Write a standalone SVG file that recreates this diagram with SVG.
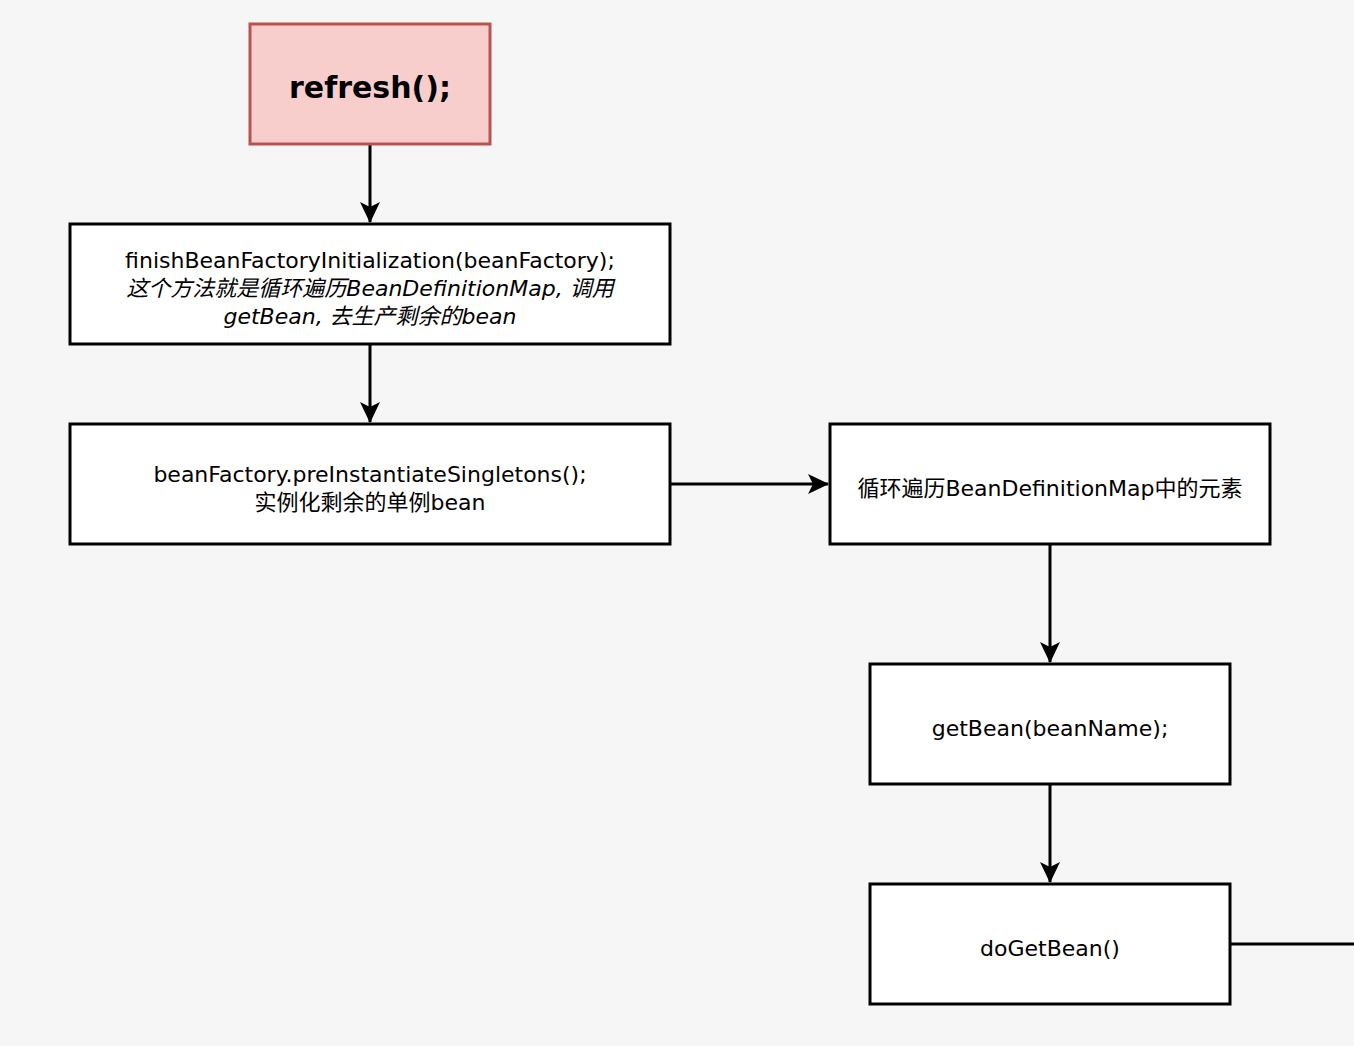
<svg xmlns="http://www.w3.org/2000/svg" width="1354" height="1046" viewBox="0 0 1354 1046">
<style>
.box{fill:#ffffff;stroke:#000000;stroke-width:3}
.red{fill:#f8cecc;stroke:#b85450;stroke-width:3}
.t{font-family:"DejaVu Sans","Noto Sans CJK SC",sans-serif;font-size:22px;fill:#000;text-anchor:middle}
.i{font-style:italic}
.b{font-weight:bold;font-size:30px}
.c{fill:none;stroke:#000;stroke-width:3}
</style>
<defs>
<marker id="arr" markerWidth="22" markerHeight="22" refX="20" refY="11" orient="auto" markerUnits="userSpaceOnUse" viewBox="0 0 22 22">
<path d="M0,1 L21,11 L0,21 L5,11 Z" fill="#000"/>
</marker>
</defs>
<rect width="1354" height="1046" fill="#f6f6f6"/>
<g id="connectors">
<path class="c" d="M370,145 L370,222" marker-end="url(#arr)"/>
<path class="c" d="M370,345 L370,422" marker-end="url(#arr)"/>
<path class="c" d="M671,484 L828,484" marker-end="url(#arr)"/>
<path class="c" d="M1050,545 L1050,662" marker-end="url(#arr)"/>
<path class="c" d="M1050,785 L1050,882" marker-end="url(#arr)"/>
<path class="c" d="M1231,944 L1354,944"/>
</g>
<g id="refresh">
<rect class="red" x="250" y="24" width="240" height="120"/>
<text class="t b" x="370" y="98">refresh();</text>
</g>
<g id="finish">
<rect class="box" x="70" y="224" width="600" height="120"/>
<text class="t" x="370" y="268">finishBeanFactoryInitialization(beanFactory);</text>
<text class="t i" x="370" y="296">这个方法就是循环遍历BeanDefinitionMap, 调用</text>
<text class="t i" x="370" y="324">getBean, 去生产剩余的bean</text>
</g>
<g id="preInstantiate">
<rect class="box" x="70" y="424" width="600" height="120"/>
<text class="t" x="370" y="482">beanFactory.preInstantiateSingletons();</text>
<text class="t" x="370" y="510">实例化剩余的单例bean</text>
</g>
<g id="loop">
<rect class="box" x="830" y="424" width="440" height="120"/>
<text class="t" x="1050" y="496">循环遍历BeanDefinitionMap中的元素</text>
</g>
<g id="getBean">
<rect class="box" x="870" y="664" width="360" height="120"/>
<text class="t" x="1050" y="736">getBean(beanName);</text>
</g>
<g id="doGetBean">
<rect class="box" x="870" y="884" width="360" height="120"/>
<text class="t" x="1050" y="956">doGetBean()</text>
</g>
</svg>
